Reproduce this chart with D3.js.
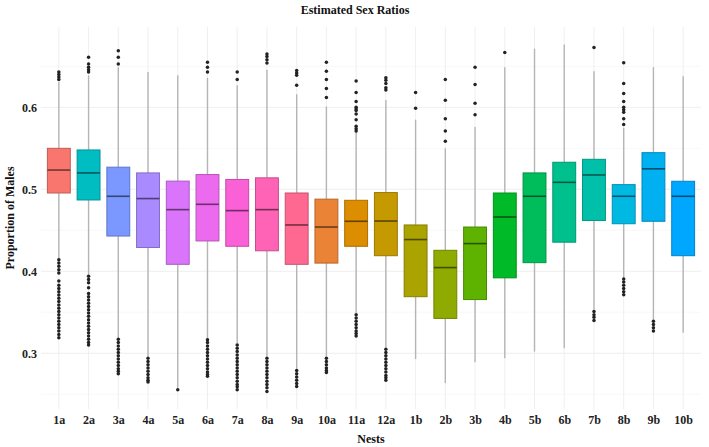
<!DOCTYPE html>
<html>

<head>
  <meta charset="utf-8">
  <script src="https://d3js.org/d3.v7.min.js"></script>
</head>
<style>
  body {
    margin: 0;
    background: #fff;
  }

  svg {
    display: block;
    font-family: "Liberation Serif", "DejaVu Serif", serif;
  }

  .grid-major {
    stroke: #ebebeb;
    stroke-width: 0.8px;
  }

  .grid-minor {
    stroke: #f4f4f4;
    stroke-width: 0.6px;
  }

  .whisker {
    stroke: #b5b5b5;
    stroke-width: 1.4px;
  }

  .tick-label {
    font-family: "Liberation Serif", serif;
    font-size: 12px;
    font-weight: bold;
    fill: #222;
  }

  .axis-title {
    font-size: 12px;
    font-weight: bold;
    fill: #111;
  }
</style>

<body>
  <svg id="chart" width="709" height="447"></svg>
  <script>
    const nests = ["1a", "2a", "3a", "4a", "5a", "6a", "7a", "8a", "9a", "10a", "11a", "12a",
      "1b", "2b", "3b", "4b", "5b", "6b", "7b", "8b", "9b", "10b"]

    // box stats
    const q1 = [0.4955, 0.487, 0.443, 0.429, 0.4085, 0.437, 0.4305, 0.425, 0.4085, 0.410, 0.4305, 0.419,
      0.369, 0.3425, 0.3655, 0.392, 0.4105, 0.4355, 0.462, 0.458, 0.461, 0.419]
    const medians = [0.5235, 0.520, 0.4915, 0.4887, 0.4752, 0.4817, 0.474, 0.4752, 0.4565, 0.454, 0.461, 0.4613,
      0.4387, 0.4045, 0.4338, 0.4662, 0.4915, 0.5085, 0.5175, 0.4915, 0.525, 0.4915]
    const q3 = [0.550, 0.548, 0.527, 0.520, 0.510, 0.518, 0.512, 0.514, 0.4955, 0.488, 0.4866, 0.496,
      0.4565, 0.4256, 0.454, 0.4955, 0.520, 0.533, 0.5366, 0.5057, 0.5447, 0.5098]
    const whiskerLow = [0.415, 0.396, 0.319, 0.296, 0.258, 0.318, 0.312, 0.296, 0.281, 0.296, 0.349, 0.307,
      0.293, 0.2636, 0.289, 0.294, 0.302, 0.306, 0.353, 0.392, 0.341, 0.325]
    const whiskerHigh = [0.631, 0.639, 0.649, 0.643, 0.639, 0.636, 0.627, 0.646, 0.616, 0.601, 0.570, 0.609,
      0.585, 0.550, 0.576, 0.649, 0.6716, 0.6765, 0.644, 0.575, 0.649, 0.638]

    const outliers = [
      [0.643, 0.640, 0.637, 0.634, 0.414, 0.410, 0.406, 0.402, 0.398, 0.388, 0.383, 0.379, 0.375, 0.371, 0.367,
        0.363, 0.359, 0.355, 0.351, 0.347, 0.343, 0.339, 0.335, 0.331, 0.327, 0.323, 0.319],
      [0.661, 0.653, 0.649, 0.646, 0.643, 0.394, 0.390, 0.386, 0.380, 0.373, 0.369, 0.365, 0.361, 0.357, 0.353,
        0.349, 0.345, 0.341, 0.337, 0.333, 0.329, 0.325, 0.321, 0.317, 0.313, 0.310],
      [0.669, 0.661, 0.653, 0.317, 0.313, 0.309, 0.305, 0.301, 0.297, 0.293, 0.289, 0.285, 0.281, 0.278, 0.275],
      [0.294, 0.290, 0.286, 0.282, 0.278, 0.274, 0.270, 0.267, 0.265],
      [0.2555],
      [0.655, 0.649, 0.643, 0.3165, 0.313, 0.309, 0.305, 0.301, 0.297, 0.293, 0.289, 0.285, 0.281, 0.277, 0.274, 0.272],
      [0.643, 0.634, 0.310, 0.306, 0.302, 0.298, 0.294, 0.290, 0.286, 0.282, 0.278, 0.274, 0.270, 0.266, 0.262,
        0.259, 0.2555],
      [0.665, 0.662, 0.658, 0.654, 0.294, 0.290, 0.286, 0.282, 0.278, 0.274, 0.270, 0.266, 0.262, 0.258, 0.2535],
      [0.645, 0.642, 0.639, 0.627, 0.279, 0.275, 0.271, 0.267, 0.263, 0.2595],
      [0.655, 0.644, 0.634, 0.623, 0.612, 0.294, 0.290, 0.286, 0.282, 0.279, 0.2766],
      [0.632, 0.618, 0.607, 0.600, 0.598, 0.596, 0.592, 0.585, 0.577, 0.574, 0.571,
        0.347, 0.343, 0.339, 0.335, 0.331, 0.327, 0.324, 0.321],
      [0.636, 0.633, 0.629, 0.624, 0.621, 0.305, 0.301, 0.297, 0.293, 0.289, 0.285, 0.281, 0.277, 0.273, 0.270, 0.267],
      [0.618, 0.599],
      [0.634, 0.6085, 0.586, 0.571, 0.5585],
      [0.649, 0.628, 0.605, 0.591],
      [0.667],
      [],
      [],
      [0.673, 0.351, 0.347, 0.344, 0.340],
      [0.6545, 0.629, 0.617, 0.607, 0.600, 0.597, 0.594, 0.586, 0.579, 0.3905, 0.387, 0.383, 0.379, 0.375, 0.3713],
      [0.339, 0.335, 0.331, 0.327],
      []
    ]

    const colors = ["#F8766D", "#00BDC2", "#7A98FF", "#A98BFF", "#D974FB", "#EC6AED", "#FB61D7", "#FF63B6",
      "#FF6890", "#EA8336", "#DD8D00", "#C59A00", "#ABA300", "#8FAA00", "#5EB300", "#00BA27", "#00BD5C",
      "#00C08D", "#00C0AA", "#00B9E3", "#00B0F0", "#00A7FF"]

    const yTicks = [0.3, 0.4, 0.5, 0.6]
    const yMinor = [0.25, 0.35, 0.45, 0.55, 0.65]

    const svg = d3.select("#chart")
    const panelLeft = 41, panelRight = 701, panelTop = 27, panelBottom = 409

    const x = d3.scalePoint().domain(nests).range([panelLeft, panelRight]).padding(0.6)
    const y = d3.scaleLinear().domain([0.232, 0.698]).range([panelBottom, panelTop])
    const boxW = x.step() * 0.77

    // grid
    svg.selectAll(".grid-minor").data(yMinor).join("line")
      .attr("class", "grid-minor")
      .attr("x1", panelLeft).attr("x2", panelRight)
      .attr("y1", d => y(d)).attr("y2", d => y(d))
    svg.selectAll(".grid-h").data(yTicks).join("line")
      .attr("class", "grid-major grid-h")
      .attr("x1", panelLeft).attr("x2", panelRight)
      .attr("y1", d => y(d)).attr("y2", d => y(d))
    svg.selectAll(".grid-v").data(nests).join("line")
      .attr("class", "grid-major grid-v")
      .attr("x1", d => x(d)).attr("x2", d => x(d))
      .attr("y1", panelTop).attr("y2", panelBottom)

    const boxes = nests.map((n, i) => ({
      nest: n, q1: q1[i], med: medians[i], q3: q3[i],
      lo: whiskerLow[i], hi: whiskerHigh[i], out: outliers[i], color: colors[i]
    }))

    const g = svg.selectAll(".box").data(boxes).join("g").attr("class", "box")

    g.append("line").attr("class", "whisker")
      .attr("x1", d => x(d.nest)).attr("x2", d => x(d.nest))
      .attr("y1", d => y(d.hi)).attr("y2", d => y(d.q3))
    g.append("line").attr("class", "whisker")
      .attr("x1", d => x(d.nest)).attr("x2", d => x(d.nest))
      .attr("y1", d => y(d.q1)).attr("y2", d => y(d.lo))

    g.append("rect")
      .attr("x", d => x(d.nest) - boxW / 2)
      .attr("width", boxW)
      .attr("y", d => y(d.q3))
      .attr("height", d => y(d.q1) - y(d.q3))
      .attr("fill", d => d.color)
      .attr("stroke", d => d3.color(d.color).darker(0.7))
      .attr("stroke-width", 1)

    g.append("line")
      .attr("x1", d => x(d.nest) - boxW / 2).attr("x2", d => x(d.nest) + boxW / 2)
      .attr("y1", d => y(d.med)).attr("y2", d => y(d.med))
      .attr("stroke", d => d3.color(d.color).darker(2.2))
      .attr("stroke-width", 1.6)

    g.selectAll("circle").data(d => d.out.map(v => ({ nest: d.nest, v }))).join("circle")
      .attr("cx", d => x(d.nest))
      .attr("cy", d => y(d.v))
      .attr("r", 1.75)
      .attr("fill", "#222")

    // axes
    const yAxis = d3.axisLeft(y).tickValues(yTicks).tickSize(0).tickPadding(4).tickFormat(d3.format(".1f"))
    const ya = svg.append("g").attr("transform", `translate(${panelLeft},0)`).call(yAxis)
      .attr("font-family", null).attr("font-size", null)
    ya.select(".domain").remove()
    ya.selectAll("text").attr("class", "tick-label")

    const xAxis = d3.axisBottom(x).tickSize(0).tickPadding(6)
    const xa = svg.append("g").attr("transform", `translate(0,${panelBottom})`).call(xAxis)
      .attr("font-family", null).attr("font-size", null)
    xa.select(".domain").remove()
    xa.selectAll("text").attr("class", "tick-label")

    svg.append("text").attr("class", "axis-title")
      .attr("x", 355).attr("y", 14).attr("text-anchor", "middle")
      .text("Estimated Sex Ratios")
    svg.append("text").attr("class", "axis-title")
      .attr("x", (panelLeft + panelRight) / 2).attr("y", 443).attr("text-anchor", "middle")
      .text("Nests")
    svg.append("text").attr("class", "axis-title")
      .attr("transform", `translate(14,${(panelTop + panelBottom) / 2}) rotate(-90)`)
      .attr("text-anchor", "middle")
      .text("Proportion of Males")
  </script>
</body>

</html>
